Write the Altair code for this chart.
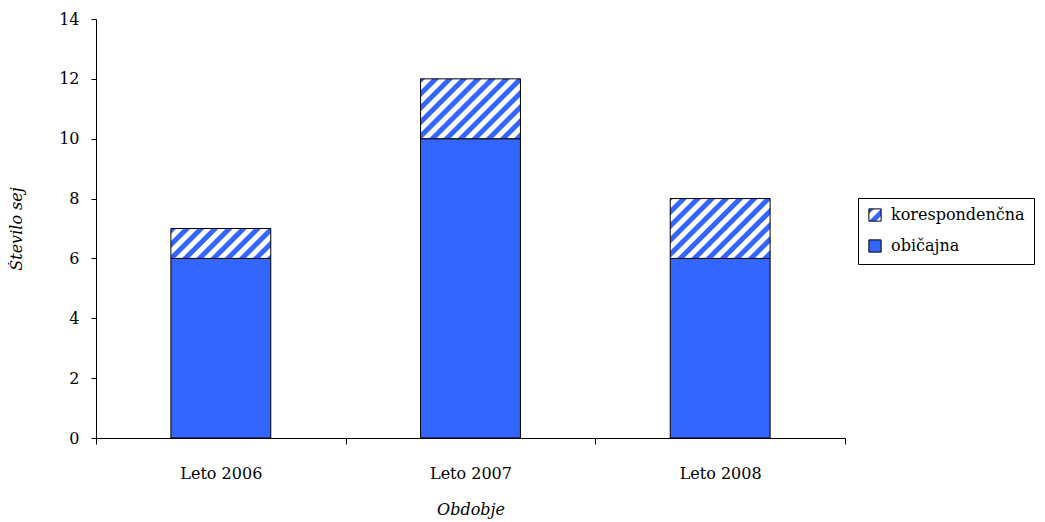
import altair as alt
import pandas as pd

periods = ["Leto 2006", "Leto 2007", "Leto 2008"]
obicajna = [6, 10, 6]
korespondencna = [1, 2, 2]
series = ["korespondenčna", "običajna"]
colors = ["url(#hatch)", "#3366ff"]

rows = []
for p, o, k in zip(periods, obicajna, korespondencna):
    rows.append({"Obdobje": p, "vrsta": "običajna", "sej": o, "ord": 0})
    rows.append({"Obdobje": p, "vrsta": "korespondenčna", "sej": k, "ord": 1})
df = pd.DataFrame(rows)

FONT = "DejaVu Serif"

chart = alt.Chart(df).mark_bar(stroke="black", strokeWidth=1,
                               width=alt.RelativeBandSize(0.4)).encode(
    x=alt.X("Obdobje:N", sort=periods,
            scale=alt.Scale(paddingInner=0, paddingOuter=0),
            axis=alt.Axis(title="Obdobje", labelAngle=0, tickBand="extent",
                          labelPadding=21, titlePadding=20, tickSize=6,
                          titleFontStyle="italic", titleFontWeight="normal")),
    y=alt.Y("sej:Q", stack="zero",
            scale=alt.Scale(domain=[0, 14], nice=False),
            axis=alt.Axis(title="Število sej", values=[0, 2, 4, 6, 8, 10, 12, 14],
                          grid=False, tickSize=5, labelPadding=12, titlePadding=34,
                          titleFontStyle="italic", titleFontWeight="normal")),
    color=alt.Color("vrsta:N", scale=alt.Scale(domain=series, range=colors),
                    legend=alt.Legend(title=None, orient="none", legendX=762, legendY=179,
                                      symbolType="square", symbolSize=150,
                                      symbolStrokeColor="black", symbolStrokeWidth=1,
                                      strokeColor="black", padding=9, rowPadding=13,
                                      labelFontSize=16, labelFont=FONT, labelColor="black",
                                      labelOffset=8)),
    order=alt.Order("ord:Q"),
).properties(
    width=749, height=419,
    autosize=alt.AutoSizeParams(type="none"),
    padding={"left": 88, "top": 11, "right": 192, "bottom": 84},
).configure(background="white").configure_view(stroke=None).configure_axis(
    labelFont=FONT, titleFont=FONT, labelFontSize=16, titleFontSize=16,
    labelColor="black", titleColor="black", domainColor="black", tickColor="black",
    domainWidth=1, tickWidth=1,
)

chart.save("out.html", embed_options={"renderer": "svg", "actions": False})

defs = ('<svg width="0" height="0" style="position:absolute"><defs>'
        '<pattern id="hatch" patternUnits="userSpaceOnUse" width="10" height="10" '
        'patternTransform="rotate(45)"><rect width="10" height="10" fill="white"/>'
        '<rect width="5" height="10" fill="#3366ff"/></pattern></defs></svg>')
with open("out.html", encoding="utf-8") as f:
    html = f.read()
html = html.replace("<body>", "<body>" + defs, 1)
with open("out.html", "w", encoding="utf-8") as f:
    f.write(html)
